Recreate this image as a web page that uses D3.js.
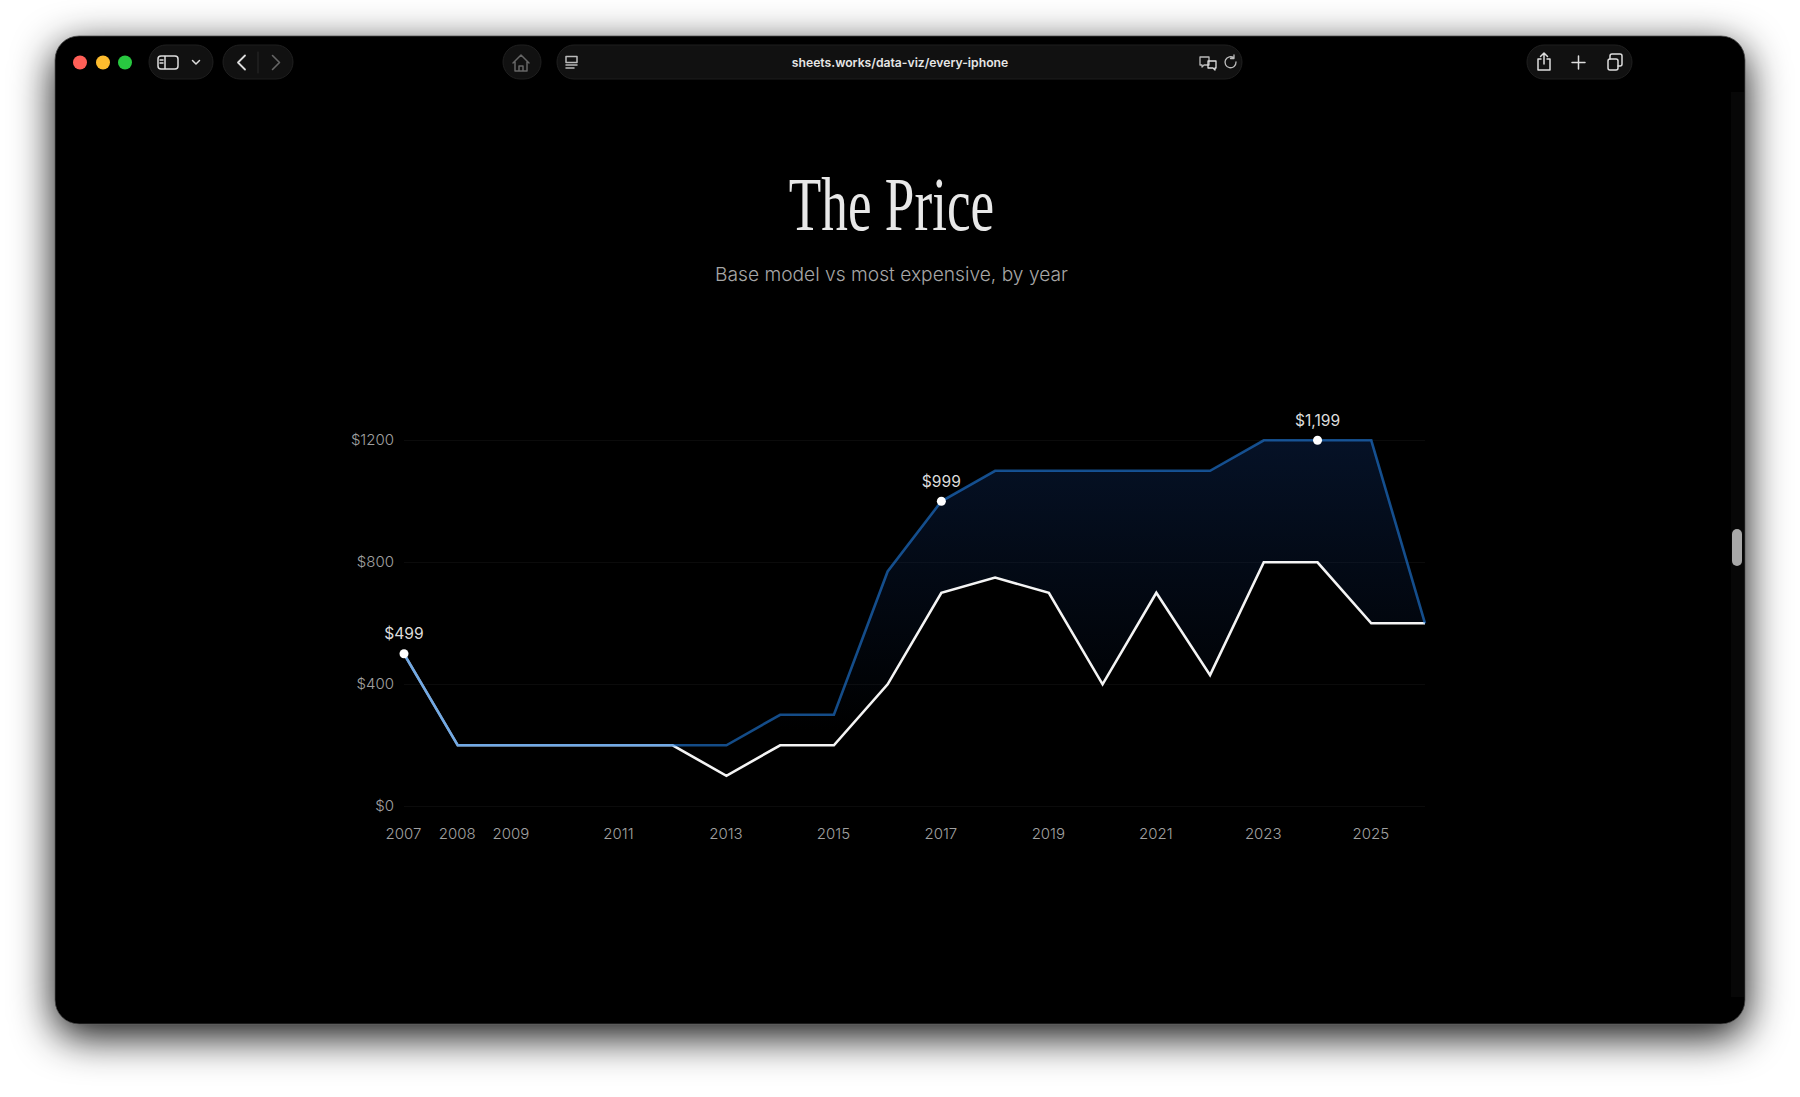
<!DOCTYPE html>
<html>
<head>
<meta charset="utf-8">
<script src="https://cdn.jsdelivr.net/npm/d3@7"></script>
<style>
  html, body { margin: 0; background: #fff; overflow: hidden; }
  svg { display: block; }
  text { font-family: Inter, "Noto Sans", sans-serif; }
</style>
</head>
<body>
<div id="container"></div>
<script>
/* DATA */
const years = [2007, 2008, 2009, 2010, 2011, 2012, 2013, 2014, 2015, 2016, 2017, 2018, 2019, 2020, 2021, 2022, 2023, 2024, 2025, 2026];
const maxPrice = [499, 199, 199, 199, 199, 199, 199, 299, 299, 769, 999, 1099, 1099, 1099, 1099, 1099, 1199, 1199, 1199, 599];
const basePrice = [499, 199, 199, 199, 199, 199, 99, 199, 199, 399, 699, 749, 699, 399, 699, 429, 799, 799, 599, 599];
const yearTicks = [2007, 2008, 2009, 2011, 2013, 2015, 2017, 2019, 2021, 2023, 2025];
const priceTicks = [0, 400, 800, 1200];
const calloutYears = [2007, 2017, 2024];

const width = 1800, height = 1097;

const svg = d3.select("#container").append("svg")
  .attr("width", width)
  .attr("height", height);

const defs = svg.append("defs");

//window shadow
const shadow = defs.append("filter").attr("id", "shadow")
  .attr("x", "-10%").attr("y", "-15%").attr("width", "120%").attr("height", "130%");
shadow.append("feDropShadow")
  .attr("dx", 0).attr("dy", 12).attr("stdDeviation", 21)
  .attr("flood-color", "#000").attr("flood-opacity", 0.95);

//area fill fades out going down
const grad = defs.append("linearGradient").attr("id", "band")
  .attr("gradientUnits", "userSpaceOnUse")
  .attr("x1", 0).attr("x2", 0).attr("y1", 440).attr("y2", 730);
grad.append("stop").attr("offset", 0).attr("stop-color", "#0d2a5c").attr("stop-opacity", 0.42);
grad.append("stop").attr("offset", 1).attr("stop-color", "#0d2a5c").attr("stop-opacity", 0);

/* WINDOW */
svg.append("rect")
  .attr("x", 55).attr("y", 36).attr("width", 1690).attr("height", 988).attr("rx", 24)
  .attr("fill", "#000").attr("stroke", "#4a4a4a").attr("stroke-width", 0.8)
  .attr("filter", "url(#shadow)");

//scrollbar
svg.append("rect").attr("x", 1731).attr("y", 92).attr("width", 13).attr("height", 905).attr("fill", "#070707");
svg.append("rect").attr("x", 1732).attr("y", 529).attr("width", 10).attr("height", 37).attr("rx", 5).attr("fill", "#a8a8a8");

/* TOOLBAR */
const bar = svg.append("g");

bar.selectAll("circle.light")
  .data([[80, "#ff5f57"], [103, "#febc2e"], [125, "#28c840"]])
  .enter().append("circle")
  .attr("class", "light")
  .attr("cx", d => d[0]).attr("cy", 62.5).attr("r", 7)
  .attr("fill", d => d[1]);

const pills = [[149, 213], [223, 293], [503, 541], [557, 1242], [1527, 1632]];
bar.selectAll("rect.pill")
  .data(pills)
  .enter().append("rect")
  .attr("class", "pill")
  .attr("x", d => d[0]).attr("y", 45)
  .attr("width", d => d[1] - d[0]).attr("height", 34).attr("rx", 17)
  .attr("fill", "#111").attr("stroke", "#1f1f1f");

function icon(d, color, w) {
  bar.append("path").attr("d", d)
    .attr("fill", "none").attr("stroke", color || "#ddd")
    .attr("stroke-width", w || 1.5).attr("stroke-linecap", "round").attr("stroke-linejoin", "round");
}

//sidebar
icon("M161 56h14a3 3 0 0 1 3 3v7a3 3 0 0 1-3 3h-14a3 3 0 0 1-3-3v-7a3 3 0 0 1 3-3zM165 56v13");
icon("M160 60h3M160 63h3");
icon("M192.500 60.500l3.500 3.500l3.500-3.500");
//back forward
icon("M245 55.500l-7 7l7 7", "#ddd", 1.8);
icon("M272.500 55.500l7 7l-7 7", "#666", 1.6);
icon("M258 52v21", "#2a2a2a", 1);
//home
icon("M513 63l8-8l8 8M515 62v9h12v-9M519 71v-5h4v5", "#666");
//reader
icon("M566 56.500h11v6h-11zM566 65h11M566 68h8", "#bbb", 1.5);
//translate, reload
icon("M1200 57h9v8h-5l-2 2v-2h-2z", "#bbb", 1.3);
icon("M1208 61h8v7h-1v2l-2-2h-5z", "#ddd", 1.3);
icon("M1234 58a5.500 5.500 0 1 0 2 4M1234 55v3.500h-3.500", "#bbb", 1.3);
//share, plus, tabs
icon("M1544 53v11M1540.500 56.500l3.500-3.500l3.500 3.500M1541 59h-3v11h12v-11h-3");
icon("M1578.500 56v13M1572 62.500h13");
icon("M1610 59v-3a2 2 0 0 1 2-2h8a2 2 0 0 1 2 2v8a2 2 0 0 1-2 2h-2");
icon("M1610 59h6a2 2 0 0 1 2 2v7a2 2 0 0 1-2 2h-6a2 2 0 0 1-2-2v-7a2 2 0 0 1 2-2z");

bar.append("text")
  .attr("x", 900).attr("y", 67)
  .attr("text-anchor", "middle")
  .attr("fill", "#e6e6e6")
  .style("font-size", "12.200px").style("font-weight", 600)
  .text("sheets.works/data-viz/every-iphone");

/* TITLES */
svg.append("text")
  .attr("transform", "translate(891.500,230) scale(0.7,1)")
  .attr("text-anchor", "middle")
  .attr("fill", "#e8e8e8")
  .style("font-family", '"Liberation Serif", serif')
  .style("font-size", "76px")
  .text("The Price");

svg.append("text")
  .attr("x", 891.500).attr("y", 281)
  .attr("text-anchor", "middle")
  .attr("fill", "#a6a6a6")
  .style("font-size", "19.200px").style("font-weight", 300)
  .text("Base model vs most expensive, by year");

/* SCALES */
const xScale = d3.scaleLinear().domain([2007, 2026]).range([404, 1425]);
const yScale = d3.scaleLinear().domain([0, 1200]).range([806, 440]);

/* AXES */
const yAxis = d3.axisLeft(yScale)
  .tickValues(priceTicks)
  .tickFormat(d => "$" + d)
  .tickSize(-(xScale.range()[1] - xScale.range()[0]))
  .tickPadding(10);

svg.append("g")
  .attr("transform", `translate(${xScale.range()[0]},0)`)
  .call(yAxis)
  .call(g => g.select(".domain").remove())
  .call(g => g.selectAll("line").attr("stroke", "#0b0b0b"))
  .call(g => g.selectAll("text").attr("fill", "#a0a0a0").style("font-size", "15px").style("font-weight", 300));

const xAxis = d3.axisBottom(xScale)
  .tickValues(yearTicks)
  .tickFormat(d3.format("d"))
  .tickSize(0)
  .tickPadding(22);

svg.append("g")
  .attr("transform", `translate(-1,${yScale(0)})`)
  .call(xAxis)
  .call(g => g.select(".domain").remove())
  .call(g => g.selectAll("text").attr("fill", "#a0a0a0").style("font-size", "15px").style("font-weight", 300));

/* MARKS */
const points = years.map((y, i) => ({ year: y, base: basePrice[i], top: maxPrice[i] }));

const area = d3.area()
  .x(d => xScale(d.year))
  .y0(d => yScale(d.base))
  .y1(d => yScale(d.top));

svg.append("path").datum(points)
  .attr("d", area)
  .attr("fill", "url(#band)");

const baseLine = d3.line().x(d => xScale(d.year)).y(d => yScale(d.base));
const topLine = d3.line().x(d => xScale(d.year)).y(d => yScale(d.top));

svg.append("path").datum(points)
  .attr("d", baseLine)
  .attr("fill", "none").attr("stroke", "#f4f4f4").attr("stroke-width", 2.6);

//blue sits over the white, so the shared part comes out pale blue
svg.append("path").datum(points)
  .attr("d", topLine)
  .attr("fill", "none").attr("stroke", "#207bdc").attr("stroke-opacity", 0.62).attr("stroke-width", 2.6);

/* CALLOUTS */
const callouts = points.filter(d => calloutYears.includes(d.year));

svg.selectAll("circle.dot")
  .data(callouts)
  .enter().append("circle")
  .attr("class", "dot")
  .attr("cx", d => xScale(d.year))
  .attr("cy", d => yScale(d.top))
  .attr("r", 4.500)
  .attr("fill", "#fff");

svg.selectAll("text.callout")
  .data(callouts)
  .enter().append("text")
  .attr("class", "callout")
  .attr("x", d => xScale(d.year))
  .attr("y", d => yScale(d.top) - 14.500)
  .attr("text-anchor", "middle")
  .attr("fill", "#dcdcdc")
  .style("font-size", "15.600px").style("font-weight", 400)
  .text(d => d3.format("$,")(d.top));
</script>
</body>
</html>
